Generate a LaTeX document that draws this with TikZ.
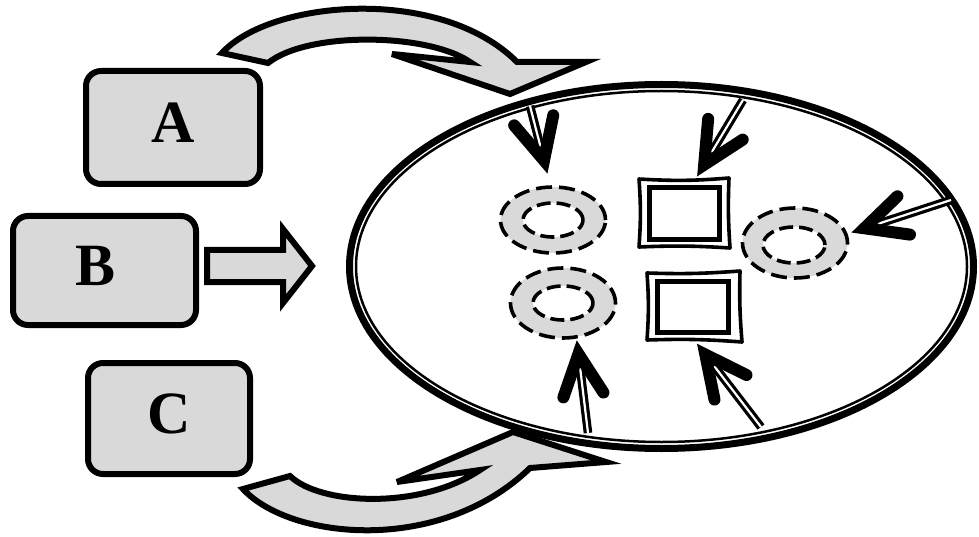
\documentclass[tikz,border=0pt]{standalone}
\usepackage{fontspec}
\setmainfont{Liberation Serif}
\usetikzlibrary{shapes.geometric,calc}
\definecolor{fillgray}{HTML}{D9D9D9}
\newcommand\cellarrow[2]{%
  \coordinate (v#2) at ($(#2)!12pt!(#1)$);
  \draw[shaft] (#1) -- ($(v#2)!-4pt!(#1)$);
  \draw[head] ($(v#2)!46pt!26:(#1)$) -- (v#2) -- ($(v#2)!46pt!-26:(#1)$);
}
\begin{document}
\begin{tikzpicture}[x=1pt,y=-1pt,
  box/.style={draw,line width=6pt,fill=fillgray,rounded corners=15pt,inner sep=0pt,
    font=\fontsize{60}{60}\selectfont\bfseries,text depth=10pt},
  bigarrow/.style={draw,line width=6pt,fill=fillgray,line join=miter,miter limit=6},
  ringout/.style={ellipse,draw,fill=fillgray,line width=3.6pt,dash pattern=on 16pt off 7pt,inner sep=0pt},
  ringin/.style={ellipse,draw,fill=white,line width=3.6pt,dash pattern=on 14pt off 6pt,inner sep=0pt},
  sqin/.style={draw,line width=4.5pt,inner sep=0pt},
  sqout/.style={draw,line width=3.6pt,line join=round},
  shaft/.style={draw,line width=3.2pt,double=white,double distance=2.2pt},
  head/.style={draw,line width=12pt,line cap=round,line join=miter,miter limit=10},
]
\useasboundingbox (0,0) rectangle (979,537);

% curved arrows
\draw[bigarrow] (222,53) .. controls (270,0) and (440,-15) .. (517,62)
  -- (586,62) -- (510,94) -- (392,54) -- (470,62)
  .. controls (428,33) and (308,31) .. (268,63) -- cycle;
\draw[bigarrow] (243,489) .. controls (290,540) and (440,555) .. (530,468)
  -- (606,462) -- (513,432) -- (397,482) -- (480,470)
  .. controls (420,510) and (320,505) .. (290,476) -- cycle;

% boxes
\node[box,minimum width=174pt,minimum height=113pt] (A) at (173,127.5) {A};
\node[box,minimum width=183pt,minimum height=109pt] (B) at (104.5,270.5) {B\kern17pt\relax};
\node[box,minimum width=162pt,minimum height=111pt] (C) at (169,418.5) {C};

% block arrow from B
\draw[bigarrow] (207,250) -- (283,250) -- (283,229) -- (312,266) -- (283,303)
  -- (283,282) -- (207,282) -- cycle;

% the cell
\node[ellipse,draw,line width=7pt,minimum width=624pt,minimum height=364pt,inner sep=0pt,outer sep=0pt] (cell) at (661.5,266.5) {};
\draw[line width=2.5pt] (cell.center) ellipse [x radius=305.5pt, y radius=175.5pt];

% rings
\node[ringout,minimum width=105pt,minimum height=66pt] (r1) at (553,220) {};
\node[ringin,minimum width=60pt,minimum height=34pt] (r1i) at (553,220) {};
\node[ringout,minimum width=105pt,minimum height=70pt] (r2) at (563,303) {};
\node[ringin,minimum width=60pt,minimum height=34pt] (r2i) at (563,303) {};
\node[ringout,minimum width=105pt,minimum height=70pt] (r3) at (795,243) {};
\node[ringin,minimum width=62pt,minimum height=36pt] (r3i) at (794,245) {};

% squares
\node[sqin,minimum width=70pt,minimum height=52pt] (s1) at (684.5,213.5) {};
\draw[sqout] (639,179) to[bend right=4] (729,178) to[bend right=3] (730,248)
  to[bend right=3] (639,247) to[bend right=4] cycle;
\node[sqin,minimum width=71pt,minimum height=51pt] (s2) at (693,307) {};
\draw[sqout] (647,273) to[bend right=3] (740,271) to[bend right=3] (742,342)
  to[bend right=3] (647,340) to[bend right=4] cycle;

% arrows into the cell
\coordinate (e1) at (530,106);  \coordinate (t1) at (547,172);
\coordinate (e2) at (743,100);  \coordinate (t2) at (698,175);
\coordinate (e3) at (951,200);  \coordinate (t3) at (853,232);
\coordinate (e4) at (588,433);  \coordinate (t4) at (577,342);
\coordinate (e5) at (761,427);  \coordinate (t5) at (698,345);
\cellarrow{e1}{t1}
\cellarrow{e2}{t2}
\cellarrow{e3}{t3}
\cellarrow{e4}{t4}
\cellarrow{e5}{t5}
\end{tikzpicture}
\end{document}
